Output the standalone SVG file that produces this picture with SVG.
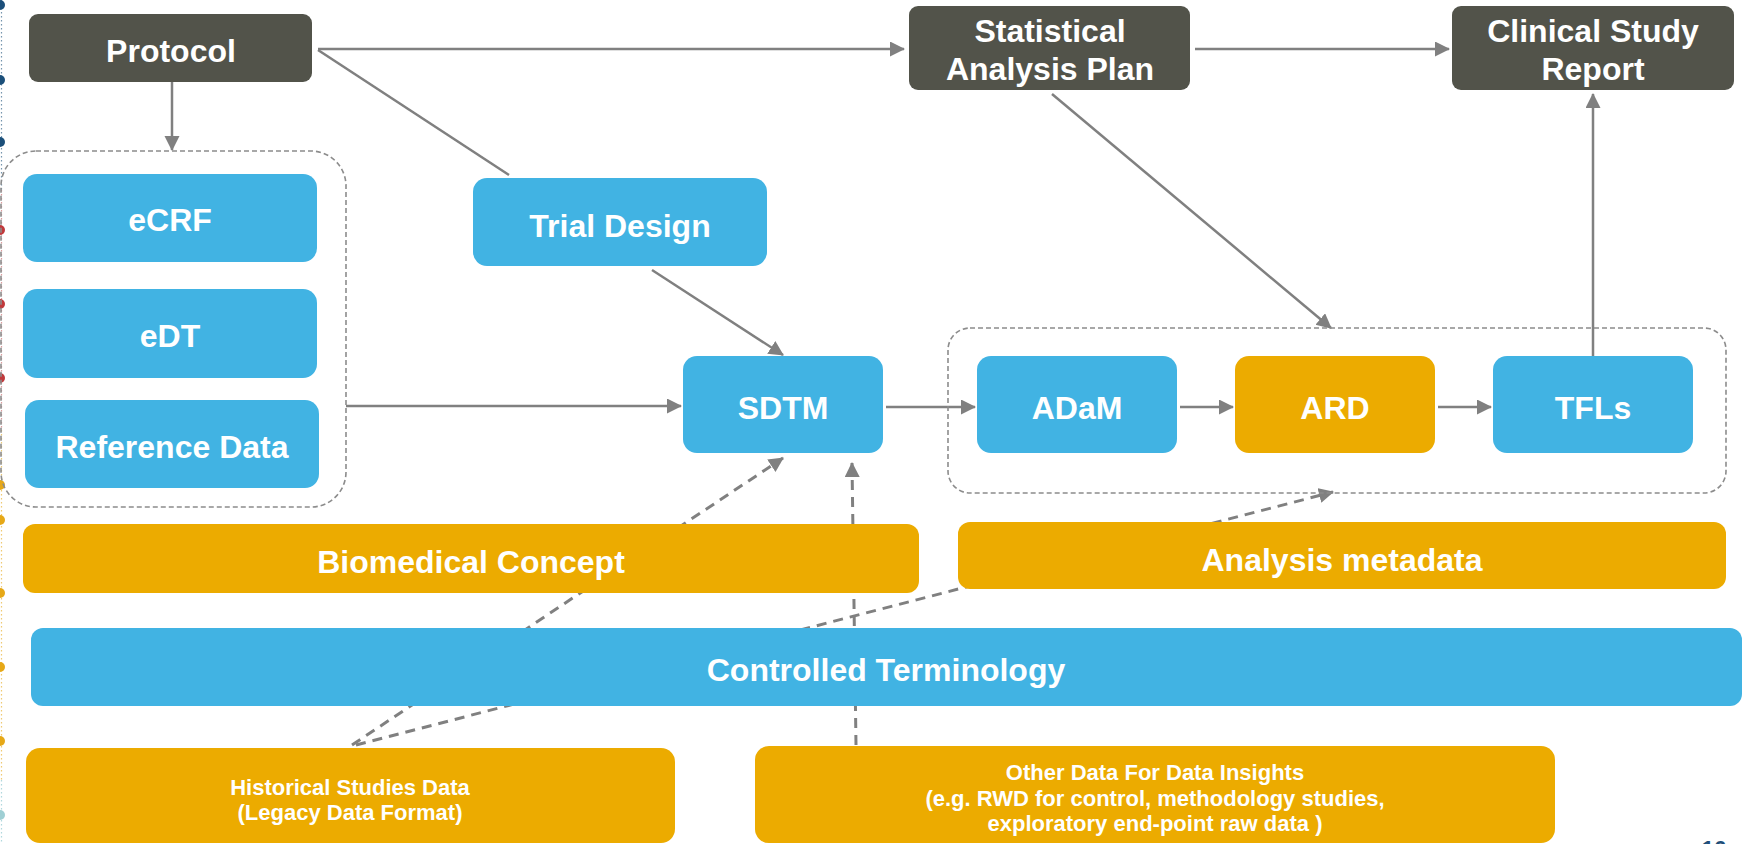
<svg xmlns="http://www.w3.org/2000/svg" width="1744" height="844" viewBox="0 0 1744 844">
  <style>
    .dark { fill: #52534A; }
    .blue { fill: #41B3E3; }
    .gold { fill: #ECAB00; }
    .lbl { font-family: "Liberation Sans", Arial, sans-serif; font-weight: bold; fill: #FFFFFF; text-anchor: middle; }
    .big { font-size: 32px; }
    .small { font-size: 22px; }
    .solid { fill: none; stroke: #808080; stroke-width: 2.5; }
    .dash { fill: none; stroke: #808080; stroke-width: 3; stroke-dasharray: 10 7; }
    .container { fill: none; stroke: #8C8C8C; stroke-width: 1.6; stroke-dasharray: 5 3; }
  </style>
  <defs>
    <marker id="arrow" markerUnits="userSpaceOnUse" markerWidth="16" markerHeight="16" refX="14" refY="7.5" orient="auto">
      <path d="M0,0 L15,7.5 L0,15 z" fill="#808080"/>
    </marker>
  </defs>

  <rect x="0" y="0" width="1744" height="844" fill="#FFFFFF"/>

  <!-- left edge decoration -->
  <g id="edge-decoration">
    <line x1="1.5" y1="0" x2="1.5" y2="190" stroke="#1B4F7A" stroke-width="1.2" stroke-dasharray="1.5 2.5" opacity="0.6"/>
    <line x1="1.5" y1="190" x2="1.5" y2="430" stroke="#C0393B" stroke-width="1.2" stroke-dasharray="1.5 2.5" opacity="0.5"/>
    <line x1="1.5" y1="430" x2="1.5" y2="780" stroke="#E6A817" stroke-width="1.2" stroke-dasharray="1.5 2.5" opacity="0.6"/>
    <line x1="1.5" y1="780" x2="1.5" y2="844" stroke="#8FC8D0" stroke-width="1.2" stroke-dasharray="1.5 2.5" opacity="0.7"/>
    <circle cx="0" cy="5" r="5" fill="#1B4F7A"/>
    <circle cx="0" cy="80" r="5" fill="#1B4F7A"/>
    <circle cx="0" cy="142" r="5" fill="#1B4F7A"/>
    <circle cx="0" cy="230" r="5" fill="#C0393B"/>
    <circle cx="0" cy="304" r="5" fill="#C0393B"/>
    <circle cx="0" cy="378" r="5" fill="#C0393B"/>
    <circle cx="0" cy="485" r="5" fill="#E6A817"/>
    <circle cx="0" cy="520" r="5" fill="#E6A817"/>
    <circle cx="0" cy="593" r="5" fill="#E6A817"/>
    <circle cx="0" cy="667" r="5" fill="#E6A817"/>
    <circle cx="0" cy="741" r="5" fill="#E6A817"/>
    <circle cx="0" cy="815" r="5" fill="#9FCFD4"/>
  </g>

  <!-- connectors -->
  <g id="connectors">
    <path class="dash" d="M352,745 L783,458" marker-end="url(#arrow)"/>
    <path class="dash" d="M356,745 L1333,492" marker-end="url(#arrow)"/>
    <path class="dash" d="M856,745 L852,463" marker-end="url(#arrow)"/>

    <path class="solid" d="M318,49 L904,49" marker-end="url(#arrow)"/>
    <path class="solid" d="M318,50 L509,175"/>
    <path class="solid" d="M1195,49 L1449,49" marker-end="url(#arrow)"/>
    <path class="solid" d="M172,82 L172,150" marker-end="url(#arrow)"/>
    <path class="solid" d="M346,406 L681,406" marker-end="url(#arrow)"/>
    <path class="solid" d="M652,270 L783,355" marker-end="url(#arrow)"/>
    <path class="solid" d="M886,407 L975,407" marker-end="url(#arrow)"/>
    <path class="solid" d="M1180,407 L1233,407" marker-end="url(#arrow)"/>
    <path class="solid" d="M1438,407 L1491,407" marker-end="url(#arrow)"/>
    <path class="solid" d="M1593,356 L1593,94" marker-end="url(#arrow)"/>
    <path class="solid" d="M1052,94 L1331,328" marker-end="url(#arrow)"/>
  </g>

  <!-- containers -->
  <g id="source-group">
    <rect class="container" x="1" y="151" width="345" height="356" rx="35" ry="35"/>
  </g>
  <g id="analysis-group">
    <rect class="container" x="948" y="328" width="778" height="165" rx="22" ry="22"/>
  </g>

  <!-- nodes -->
  <g id="protocol">
    <rect class="dark" x="29" y="14" width="283" height="68" rx="9"/>
    <text class="lbl big" x="171" y="62">Protocol</text>
  </g>
  <g id="sap">
    <rect class="dark" x="909" y="6" width="281" height="84" rx="9"/>
    <text class="lbl big" x="1050" y="42">Statistical</text>
    <text class="lbl big" x="1050" y="80">Analysis Plan</text>
  </g>
  <g id="csr">
    <rect class="dark" x="1452" y="6" width="282" height="84" rx="9"/>
    <text class="lbl big" x="1593" y="42">Clinical Study</text>
    <text class="lbl big" x="1593" y="80">Report</text>
  </g>
  <g id="ecrf">
    <rect class="blue" x="23" y="174" width="294" height="88" rx="14"/>
    <text class="lbl big" x="170" y="231">eCRF</text>
  </g>
  <g id="edt">
    <rect class="blue" x="23" y="289" width="294" height="89" rx="14"/>
    <text class="lbl big" x="170" y="347">eDT</text>
  </g>
  <g id="reference-data">
    <rect class="blue" x="25" y="400" width="294" height="88" rx="14"/>
    <text class="lbl big" x="172" y="458">Reference Data</text>
  </g>
  <g id="trial-design">
    <rect class="blue" x="473" y="178" width="294" height="88" rx="14"/>
    <text class="lbl big" x="620" y="237">Trial Design</text>
  </g>
  <g id="sdtm">
    <rect class="blue" x="683" y="356" width="200" height="97" rx="14"/>
    <text class="lbl big" x="783" y="419">SDTM</text>
  </g>
  <g id="adam">
    <rect class="blue" x="977" y="356" width="200" height="97" rx="14"/>
    <text class="lbl big" x="1077" y="419">ADaM</text>
  </g>
  <g id="ard">
    <rect class="gold" x="1235" y="356" width="200" height="97" rx="14"/>
    <text class="lbl big" x="1335" y="419">ARD</text>
  </g>
  <g id="tfls">
    <rect class="blue" x="1493" y="356" width="200" height="97" rx="14"/>
    <text class="lbl big" x="1593" y="419">TFLs</text>
  </g>
  <g id="biomedical-concept">
    <rect class="gold" x="23" y="524" width="896" height="69" rx="12"/>
    <text class="lbl big" x="471" y="573">Biomedical Concept</text>
  </g>
  <g id="analysis-metadata">
    <rect class="gold" x="958" y="522" width="768" height="67" rx="12"/>
    <text class="lbl big" x="1342" y="571">Analysis metadata</text>
  </g>
  <g id="controlled-terminology">
    <rect class="blue" x="31" y="628" width="1711" height="78" rx="12"/>
    <text class="lbl big" x="886" y="681">Controlled Terminology</text>
  </g>
  <g id="historical-studies">
    <rect class="gold" x="26" y="748" width="649" height="95" rx="14"/>
    <text class="lbl small" x="350" y="795">Historical Studies Data</text>
    <text class="lbl small" x="350" y="820">(Legacy Data Format)</text>
  </g>
  <g id="other-data">
    <rect class="gold" x="755" y="746" width="800" height="97" rx="14"/>
    <text class="lbl small" x="1155" y="780">Other Data For Data Insights</text>
    <text class="lbl small" x="1155" y="806">(e.g. RWD for control, methodology studies,</text>
    <text class="lbl small" x="1155" y="831">exploratory end-point raw data )</text>
  </g>

  <text x="1714" y="856" font-family="Liberation Sans, Arial, sans-serif" font-weight="bold" font-size="22" fill="#1F4E79" text-anchor="middle">16</text>
</svg>
